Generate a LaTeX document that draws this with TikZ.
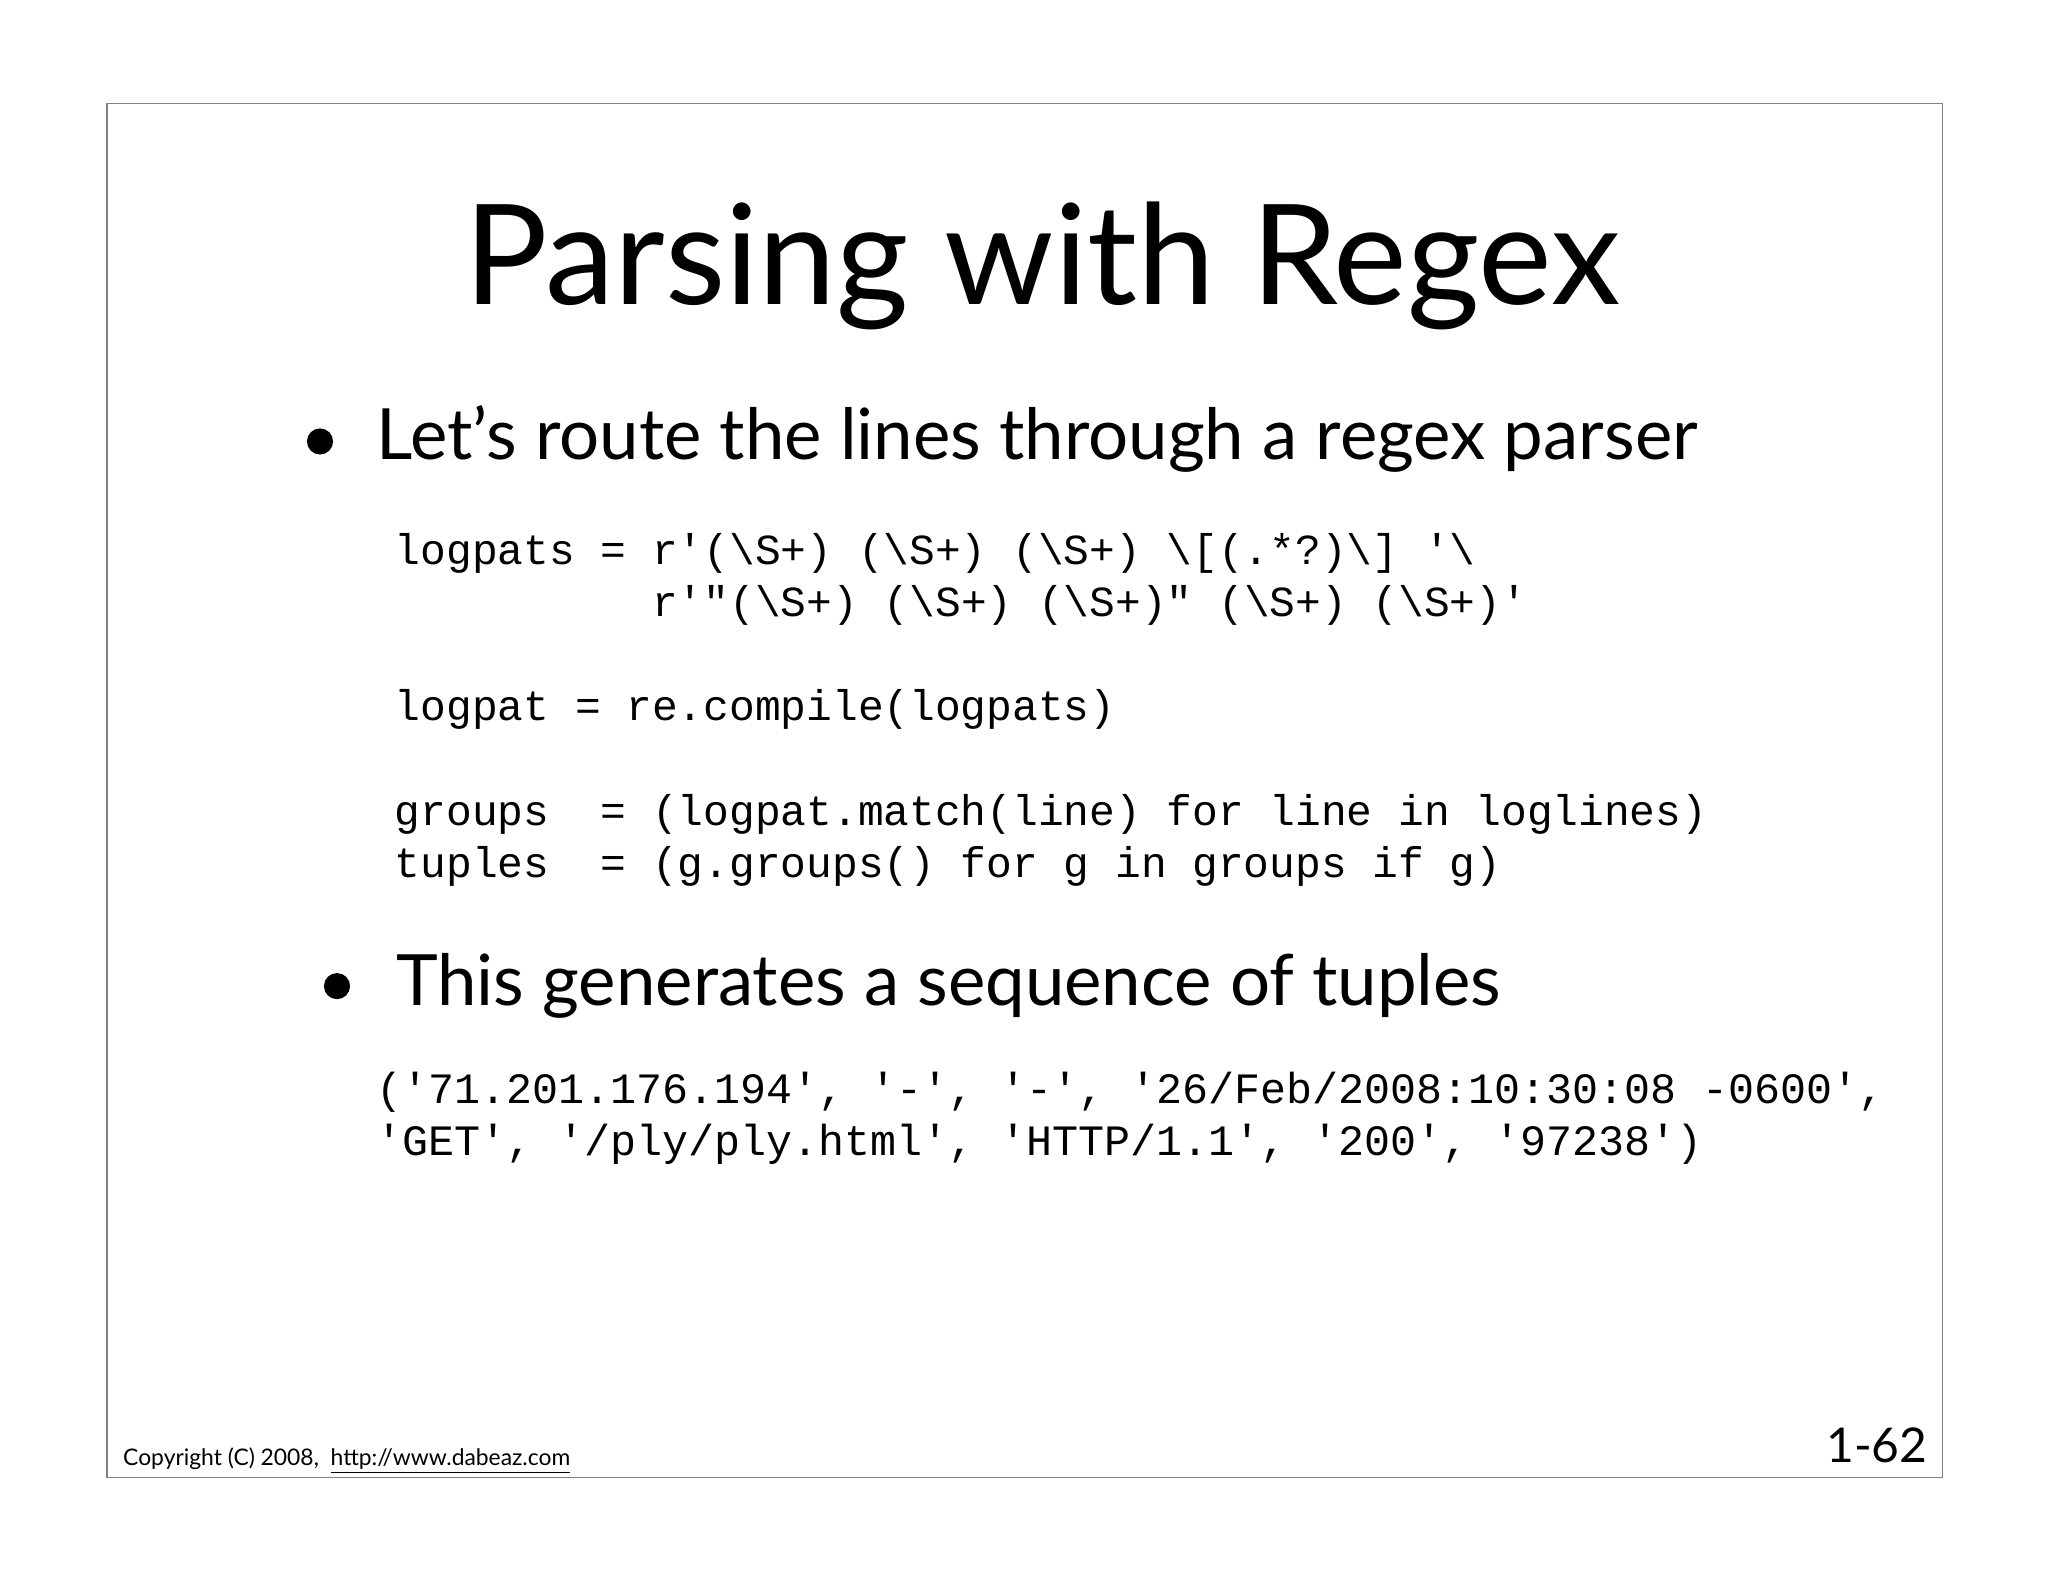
\documentclass[tikz,border=0pt]{standalone}
\usepackage{fontspec}
\setmainfont{Lato}
\newfontfamily\codefont{Liberation Mono}
\begin{document}
\begin{tikzpicture}[x=0.6pt,y=-0.6pt,
  code/.style={anchor=base west,inner sep=0,font=\codefont\fontsize{19.7}{23}\selectfont},
  btext/.style={anchor=base west,inner sep=0,font=\fontsize{32.5}{38}\selectfont}]
\useasboundingbox (0,0) rectangle (1568,1211);
\fill[white] (0,0) rectangle (1568,1211);
\draw[gray,line width=0.6pt] (82,79) rectangle (1487,1131);
\node[anchor=base,inner sep=0,font=\fontsize{64}{70}\selectfont] (title) at (798,233) {Parsing with Regex};
\node[btext] (b1) at (288,352) {Let{\char"27}s route the lines through a regex parser};
\fill (245,338) circle (10);
\node[code] (c1) at (302,432) {logpats = r'(\textbackslash S+) (\textbackslash S+) (\textbackslash S+) \textbackslash[(.*?)\textbackslash] '\textbackslash};
\node[code] (c2) at (302,472) {\phantom{logpats = }r'"(\textbackslash S+) (\textbackslash S+) (\textbackslash S+)" (\textbackslash S+) (\textbackslash S+)'};
\node[code] (c3) at (302,552) {logpat = re.compile(logpats)};
\node[code] (c4) at (302,632) {groups\ \ = (logpat.match(line) for line in loglines)};
\node[code] (c5) at (302,672) {tuples\ \ = (g.groups() for g in groups if g)};
\node[btext] (b2) at (303,770) {This generates a sequence of tuples};
\fill (258,755) circle (10);
\node[code,font=\codefont\fontsize{19.9}{23}\selectfont] (t1) at (288,845) {('71.201.176.194', '-', '-', '26/Feb/2008:10:30:08 -0600',};
\node[code,font=\codefont\fontsize{19.9}{23}\selectfont] (t2) at (288,885) {'GET', '/ply/ply.html', 'HTTP/1.1', '200', '97238')};
\node[anchor=base west,inner sep=0,font=\fontsize{10.5}{13}\selectfont] (copy) at (94,1122) {Copyright (C) 2008, \ \underline{http://www.dabeaz.com}};
\node[anchor=base east,inner sep=0,font=\fontsize{22}{26}\selectfont] (pg) at (1476,1120) {1-62};
\end{tikzpicture}
\end{document}
